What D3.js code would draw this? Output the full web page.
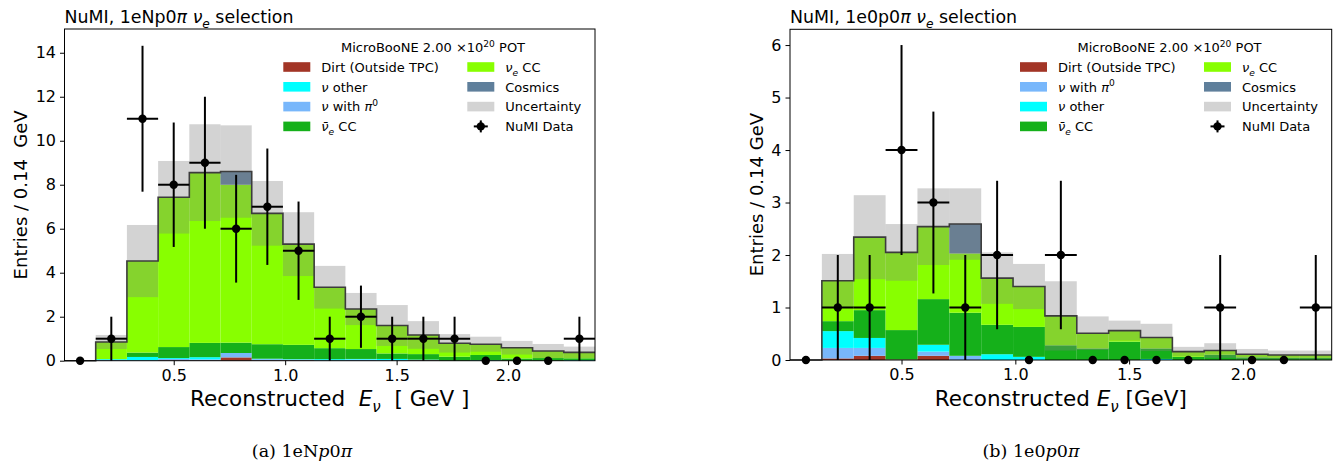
<!DOCTYPE html>
<html>
<head>
<meta charset="utf-8">
<script src="https://cdn.jsdelivr.net/npm/d3@7"></script>
<style>
  body { margin: 0; background: #fff; }
  svg text { font-family: "DejaVu Sans", sans-serif; fill: #000; }
</style>
</head>
<body>
<svg id="fig" width="1333" height="462"></svg>
<script>
// bin edges of reconstructed E_nu (GeV), 0.14 GeV wide
const binEdges = [0.01, 0.15, 0.29, 0.43, 0.57, 0.71, 0.85, 0.99, 1.13, 1.27, 1.41, 1.55, 1.69, 1.83, 1.97, 2.11, 2.25, 2.39];
const binCenters = [0.08, 0.22, 0.36, 0.50, 0.64, 0.78, 0.92, 1.06, 1.20, 1.34, 1.48, 1.62, 1.76, 1.90, 2.04, 2.18, 2.32];

// (a) 1eNp0pi  - stacked MC
const npDirt   = [0, 0, 0, 0.02, 0.02, 0.15, 0.02, 0.02, 0, 0, 0, 0.02, 0, 0, 0, 0, 0];
const npPi0    = [0, 0.03, 0.02, 0.06, 0.04, 0.20, 0.05, 0.03, 0.02, 0.05, 0.02, 0.01, 0, 0, 0, 0, 0];
const npOther  = [0, 0.04, 0.15, 0.04, 0.10, 0, 0.02, 0.02, 0.05, 0.03, 0.06, 0.02, 0, 0.02, 0, 0, 0.03];
const npNueBar = [0, 0, 0.20, 0.50, 0.65, 0.47, 0.66, 0.65, 0.50, 0.45, 0.25, 0.25, 0.18, 0.24, 0.10, 0.12, 0.08];
const npNue    = [0, 0.78, 4.16, 6.81, 7.74, 7.18, 5.95, 4.58, 2.77, 1.82, 1.27, 0.87, 0.61, 0.49, 0.49, 0.32, 0.27];
const npCosmic = [0, 0, 0, 0, 0, 0.60, 0, 0, 0, 0, 0, 0, 0, 0, 0, 0, 0];
const npUnc    = [0, 0.32, 1.64, 1.65, 2.20, 2.10, 1.47, 1.45, 0.97, 0.73, 0.93, 0.63, 0.42, 0.34, 0.31, 0.32, 0.26];
const npData   = [0, 1, 11, 8, 9, 6, 7, 5, 1, 2, 1, 1, 1, 0, 0, 0, 1];

// (b) 1e0p0pi
const zpDirt   = [0, 0.03, 0.08, 0.01, 0.08, 0, 0, 0, 0, 0, 0, 0, 0, 0, 0, 0, 0];
const zpPi0    = [0, 0.20, 0.15, 0, 0.08, 0.08, 0, 0, 0, 0, 0, 0, 0, 0, 0, 0, 0];
const zpOther  = [0, 0.32, 0.19, 0, 0.13, 0, 0.11, 0.06, 0, 0, 0, 0.02, 0, 0, 0, 0, 0];
const zpNueBar = [0, 0.19, 0.53, 0.56, 0.87, 0.82, 0.56, 0.57, 0.28, 0.22, 0.35, 0.20, 0.06, 0.10, 0.05, 0.04, 0.04];
const zpNue    = [0, 0.77, 1.39, 1.48, 1.38, 1.13, 0.89, 0.77, 0.56, 0.29, 0.21, 0.21, 0.10, 0.08, 0.06, 0.055, 0.055];
const zpCosmic = [0, 0, 0, 0, 0, 0.56, 0, 0, 0, 0, 0, 0, 0, 0, 0, 0, 0];
const zpUnc    = [0, 0.51, 0.80, 0.54, 0.73, 0.68, 0.49, 0.43, 0.66, 0.32, 0.19, 0.26, 0.09, 0.14, 0.10, 0.085, 0.085];
const zpData   = [0, 1, 1, 4, 3, 1, 2, 0, 2, 0, 0, 0, 0, 1, 0, 0, 1];

const xTicks = [0.5, 1.0, 1.5, 2.0];
const npYTicks = [0, 2, 4, 6, 8, 10, 12, 14];
const zpYTicks = [0, 1, 2, 3, 4, 5, 6];

const layers = ["dirt", "pi0", "other", "nuebar", "nue", "cosmic"];
const colors = {
  dirt: "#a23526", pi0: "#78b7fb", other: "#00ffff",
  nuebar: "#15b01a", nue: "#88ff00", cosmic: "#5f7f9b",
  unc: "rgba(128,128,128,0.35)"
};

// rich text segments: i = italic, sub / sup
const L = {
  dirt:   [{t: "Dirt (Outside TPC)"}],
  other:  [{t: "ν", i: 1}, {t: " other"}],
  pi0:    [{t: "ν", i: 1}, {t: " with "}, {t: "π", i: 1}, {t: "0", sup: 1}],
  nuebar: [{t: "ν\u0304", i: 1}, {t: "e", i: 1, sub: 1}, {t: " CC"}],
  nue:    [{t: "ν", i: 1}, {t: "e", i: 1, sub: 1}, {t: " CC"}],
  cosmic: [{t: "Cosmics"}],
  unc:    [{t: "Uncertainty"}],
  data:   [{t: "NuMI Data"}]
};

const svg = d3.select("#fig");

function rich(text, segs, fs) {
  let shift = 0;
  segs.forEach(s => {
    const ts = text.append("tspan").text(s.t);
    let target = s.sub ? fs * 0.3 : s.sup ? -fs * 0.4 : 0;
    if (target !== shift) { ts.attr("dy", target - shift); shift = target; }
    if (s.sub || s.sup) ts.attr("font-size", fs * 0.7);
    if (s.i) ts.attr("font-style", "italic");
  });
  return text;
}

function drawPanel(p) {
  const w = p.x1 - p.x0, h = p.y1 - p.y0;
  const g = svg.append("g").attr("transform", `translate(${p.x0},${p.y0})`);
  const x = d3.scaleLinear().domain([binEdges[0], binEdges[binEdges.length - 1]]).range([0, w]);
  const y = d3.scaleLinear().domain([0, p.ymax]).range([h, 0]);

  const rows = binCenters.map((c, i) => ({
    lo: binEdges[i], hi: binEdges[i + 1],
    dirt: p.dirt[i], pi0: p.pi0[i], other: p.other[i],
    nuebar: p.nuebar[i], nue: p.nue[i], cosmic: p.cosmic[i]
  }));
  const stacked = d3.stack().keys(layers)(rows);
  const totals = rows.map(r => layers.reduce((a, k) => a + r[k], 0));

  stacked.forEach(s => {
    g.append("g").selectAll("rect")
      .data(s.filter(d => d[1] - d[0] > 0))
      .join("rect")
      .attr("x", d => x(d.data.lo))
      .attr("width", d => x(d.data.hi) - x(d.data.lo))
      .attr("y", d => y(d[1]))
      .attr("height", d => y(d[0]) - y(d[1]))
      .attr("fill", colors[s.key]);
  });

  // uncertainty band on top of the stack
  g.append("g").selectAll("rect")
    .data(rows.map((r, i) => ({r, t: totals[i], e: p.unc[i]})).filter(d => d.e > 0))
    .join("rect")
    .attr("x", d => x(d.r.lo))
    .attr("width", d => x(d.r.hi) - x(d.r.lo))
    .attr("y", d => y(d.t + d.e))
    .attr("height", d => y(d.t - d.e) - y(d.t + d.e))
    .attr("fill", colors.unc);

  // total MC step outline
  const stepPts = binEdges.map((e, i) => [e, totals[Math.min(i, totals.length - 1)]]);
  g.append("path")
    .attr("d", d3.line().x(d => x(d[0])).y(d => y(d[1])).curve(d3.curveStepAfter)(stepPts))
    .attr("fill", "none").attr("stroke", "#3c3c3c").attr("stroke-width", 1.6);

  // axes
  const xa = g.append("g").attr("transform", `translate(0,${h})`)
    .call(d3.axisBottom(x).tickValues(xTicks).tickFormat(d3.format(".1f")).tickSize(4.5).tickPadding(4));
  const ya = g.append("g")
    .call(d3.axisLeft(y).tickValues(p.yticks).tickFormat(d3.format("d")).tickSize(4.5).tickPadding(4));
  [xa, ya].forEach(a => {
    a.select(".domain").remove();
    a.selectAll("text").attr("font-size", 16).attr("font-family", "DejaVu Sans");
    a.selectAll("line").attr("stroke", "#000");
  });
  g.append("rect").attr("width", w).attr("height", h)
    .attr("fill", "none").attr("stroke", "#000").attr("stroke-width", 1);

  // data points with sqrt(N) errors
  const pts = binCenters.map((c, i) => ({c, lo: binEdges[i], hi: binEdges[i + 1], v: p.data[i]}));
  const dg = g.append("g");
  pts.filter(d => d.v > 0).forEach(d => {
    const e = Math.sqrt(d.v);
    dg.append("line").attr("x1", x(d.c)).attr("x2", x(d.c))
      .attr("y1", y(d.v - e)).attr("y2", y(d.v + e))
      .attr("stroke", "#000").attr("stroke-width", 2);
    dg.append("line").attr("x1", x(d.lo)).attr("x2", x(d.hi))
      .attr("y1", y(d.v)).attr("y2", y(d.v))
      .attr("stroke", "#000").attr("stroke-width", 2);
  });
  dg.selectAll("circle").data(pts).join("circle")
    .attr("cx", d => x(d.c)).attr("cy", d => y(d.v)).attr("r", 4.2).attr("fill", "#000");

  // title
  rich(svg.append("text").attr("x", p.x0).attr("y", 22.5).attr("font-size", 17.4), p.title, 17.4);

  // axis labels
  rich(svg.append("text").attr("x", (p.x0 + p.x1) / 2).attr("y", 406)
    .attr("text-anchor", "middle").attr("font-size", 21.5).style("white-space", "pre"), p.xlabel, 21.5);
  svg.append("text")
    .attr("transform", `translate(${p.ylabX},${(p.y0 + p.y1) / 2}) rotate(-90)`)
    .attr("text-anchor", "middle").attr("font-size", 18).style("white-space", "pre")
    .text(p.ylabel);

  // legend
  const lg = svg.append("g");
  rich(lg.append("text").attr("x", p.legTitleX).attr("y", 52.3).attr("text-anchor", "middle").attr("font-size", 13),
    [{t: "MicroBooNE 2.00 ×10"}, {t: "20", sup: 1}, {t: " POT"}], 13);
  p.legend.forEach((col, ci) => {
    col.forEach((key, ri) => {
      const px = p.legCols[ci], ry = 67 + ri * 19.8;
      if (key === "data") {
        const cx = px + 13.5;
        lg.append("line").attr("x1", cx - 7).attr("x2", cx + 7).attr("y1", ry).attr("y2", ry).attr("stroke", "#000").attr("stroke-width", 2);
        lg.append("line").attr("x1", cx).attr("x2", cx).attr("y1", ry - 6).attr("y2", ry + 6).attr("stroke", "#000").attr("stroke-width", 2);
        lg.append("circle").attr("cx", cx).attr("cy", ry).attr("r", 4.2).attr("fill", "#000");
      } else {
        lg.append("rect").attr("x", px).attr("y", ry - 4.8).attr("width", 27).attr("height", 9.6)
          .attr("fill", colors[key]);
      }
      rich(lg.append("text").attr("x", px + 38).attr("y", ry + 4.7).attr("font-size", 13), L[key], 13);
    });
  });

  // caption below
  const cap = svg.append("text").attr("x", p.capX).attr("y", 457).attr("text-anchor", "middle")
    .attr("font-size", 17.5).attr("font-family", "DejaVu Serif");
  p.caption.forEach(s => {
    const ts = cap.append("tspan").text(s.t).attr("font-family", "DejaVu Serif");
    if (s.i) ts.attr("font-style", "italic");
  });
}

drawPanel({
  x0: 64.5, x1: 595, y0: 29, y1: 360.7, ymax: 15.08, yticks: npYTicks,
  dirt: npDirt, pi0: npPi0, other: npOther, nuebar: npNueBar, nue: npNue, cosmic: npCosmic,
  unc: npUnc, data: npData,
  title: [{t: "NuMI, 1eNp0"}, {t: "π", i: 1}, {t: " "}, {t: "ν", i: 1}, {t: "e", i: 1, sub: 1}, {t: " selection"}],
  xlabel: [{t: "Reconstructed  "}, {t: "E", i: 1}, {t: "ν", i: 1, sub: 1}, {t: "  [ GeV ]"}],
  ylabel: "Entries / 0.14  GeV", ylabX: 26.7,
  legTitleX: 433, legCols: [283.3, 467.3],
  legend: [["dirt", "other", "pi0", "nuebar"], ["nue", "cosmic", "unc", "data"]],
  capX: 302, caption: [{t: "(a) 1eN"}, {t: "p", i: 1}, {t: "0"}, {t: "π", i: 1}]
});

drawPanel({
  x0: 790, x1: 1331.7, y0: 29.3, y1: 360, ymax: 6.3, yticks: zpYTicks,
  dirt: zpDirt, pi0: zpPi0, other: zpOther, nuebar: zpNueBar, nue: zpNue, cosmic: zpCosmic,
  unc: zpUnc, data: zpData,
  title: [{t: "NuMI, 1e0p0"}, {t: "π", i: 1}, {t: " "}, {t: "ν", i: 1}, {t: "e", i: 1, sub: 1}, {t: " selection"}],
  xlabel: [{t: "Reconstructed "}, {t: "E", i: 1}, {t: "ν", i: 1, sub: 1}, {t: " [GeV]"}],
  ylabel: "Entries / 0.14 GeV", ylabX: 763,
  legTitleX: 1169.5, legCols: [1020, 1204],
  legend: [["dirt", "pi0", "other", "nuebar"], ["nue", "cosmic", "unc", "data"]],
  capX: 1031, caption: [{t: "(b) 1e0"}, {t: "p", i: 1}, {t: "0"}, {t: "π", i: 1}]
});
</script>
</body>
</html>
